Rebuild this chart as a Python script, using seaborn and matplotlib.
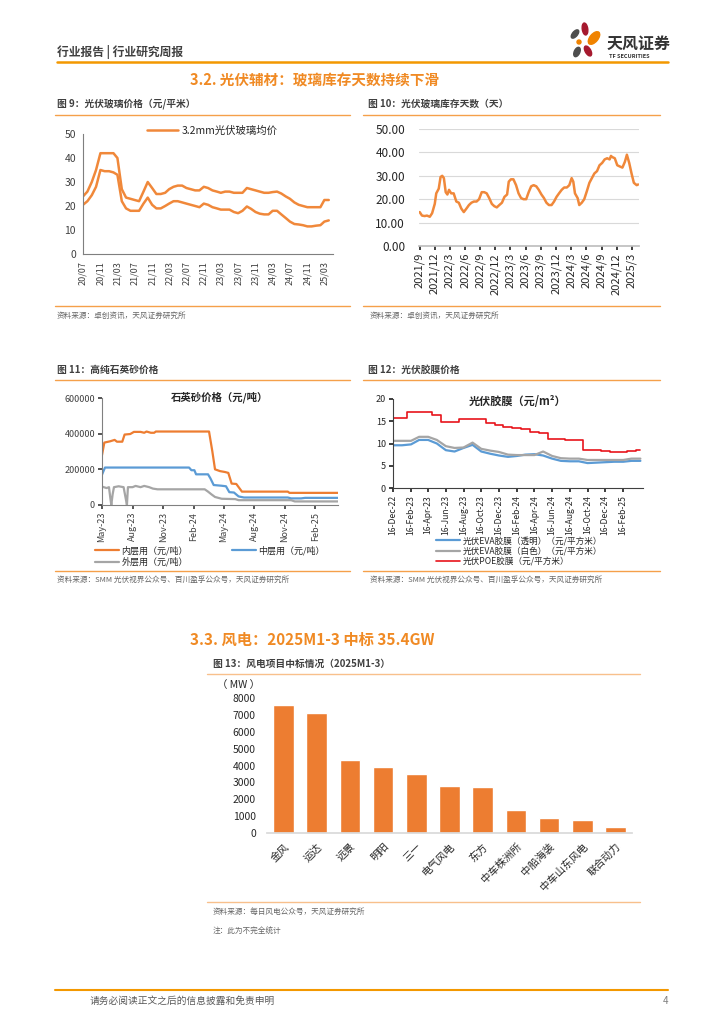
import numpy as np
import pandas as pd
import seaborn as sns
import matplotlib.pyplot as plt
from matplotlib.patches import Ellipse

sns.set_theme(style="white")
plt.rcParams['font.family'] = ['Noto Sans CJK SC', 'DejaVu Sans']
plt.rcParams['axes.unicode_minus'] = False

# ---------------- data ----------------
# Fig 9: PV glass price (yuan/m2), monthly from 2020/07
glass_ticks = ["20/07", "20/11", "21/03", "21/07", "21/11", "22/03", "22/07", "22/11",
               "23/03", "23/07", "23/11", "24/03", "24/07", "24/11", "25/03"]
glass_32mm = [24, 26, 30, 35, 42, 42,
              42, 42, 40, 27, 23.5, 23, 22.5, 22, 26, 30, 27.5, 25,
              25, 25.5, 27, 28, 28.5, 28.5, 27.5, 27, 26.5, 26.5, 28, 27.5,
              26.5, 26, 25.5, 26, 26, 25.5, 25.5, 25.5, 27.5, 27, 26.5, 26,
              25.5, 25.5, 25.8, 26, 25.2, 24, 23, 21.5, 20.5, 20, 19.5, 19.5,
              19.5, 19.5, 22.5, 22.5]
glass_20mm = [20.5, 22, 24.5, 28, 35, 34.5,
              34.5, 34, 33, 22, 19, 18, 18, 18, 21, 23.5, 20.5, 19,
              19, 20, 21, 22, 22, 21.5, 21, 20.5, 20, 19.5, 21, 20.5,
              19.5, 19, 18.5, 18.5, 18.5, 17.5, 17, 18, 19.8, 18.8, 17.5, 16.8,
              16.5, 16.5, 18, 18, 16.5, 15, 13.5, 12.5, 12.3, 12, 11.5, 11.5,
              11.8, 12, 13.5, 14]

# Fig 10: PV glass inventory days
inv_ticks = ["2021/9", "2021/12", "2022/3", "2022/6", "2022/9", "2022/12", "2023/3", "2023/6",
             "2023/9", "2023/12", "2024/3", "2024/6", "2024/9", "2024/12", "2025/3"]
inv_dates = ["2021-09-01", "2021-09-15", "2021-10-01", "2021-10-15", "2021-11-01", "2021-11-15",
             "2021-12-01", "2021-12-10", "2021-12-25", "2022-01-05", "2022-01-15", "2022-01-25",
             "2022-02-05", "2022-02-15", "2022-02-25", "2022-03-10", "2022-03-25", "2022-04-10",
             "2022-04-25", "2022-05-10", "2022-05-25", "2022-06-10", "2022-06-25", "2022-07-10",
             "2022-07-25", "2022-08-10", "2022-08-25", "2022-09-10", "2022-09-25", "2022-10-10",
             "2022-10-25", "2022-11-10", "2022-11-25", "2022-12-10", "2022-12-25", "2023-01-10",
             "2023-01-25", "2023-02-10", "2023-02-20", "2023-03-05", "2023-03-20", "2023-04-05",
             "2023-04-20", "2023-05-05", "2023-05-20", "2023-06-05", "2023-06-20", "2023-07-05",
             "2023-07-20", "2023-08-05", "2023-08-20", "2023-09-05", "2023-09-20", "2023-10-05",
             "2023-10-20", "2023-11-05", "2023-11-20", "2023-12-05", "2023-12-20", "2024-01-05",
             "2024-01-20", "2024-02-05", "2024-02-20", "2024-03-05", "2024-03-15", "2024-03-25",
             "2024-04-10", "2024-04-20", "2024-05-05", "2024-05-20", "2024-06-05", "2024-06-20",
             "2024-07-05", "2024-07-20", "2024-08-05", "2024-08-20", "2024-09-05", "2024-09-20",
             "2024-10-05", "2024-10-20", "2024-10-28", "2024-11-05", "2024-11-20", "2024-12-05",
             "2024-12-20", "2025-01-05", "2025-01-20", "2025-02-01", "2025-02-15", "2025-03-01",
             "2025-03-15", "2025-04-01", "2025-04-10"]
inv_days = [14.5, 13, 12.8, 13, 12.5, 14,
            18, 22.5, 24.5, 29.5, 30, 29,
            23, 22, 24, 22.5, 22.5, 19,
            18.5, 16, 14.5, 16, 17.5, 18.5,
            19, 19, 20, 23, 23, 22.5,
            20.5, 18, 17, 16.5, 17.5, 18.5,
            21, 22, 27.5, 28.5, 28.5, 26,
            22.5, 20.5, 20, 20, 23, 25.5,
            26, 25.5, 24, 22, 20.5, 18.5,
            17.5, 17.5, 19, 21, 22.5, 24,
            25, 25, 26, 29, 27.5, 22.5,
            20.5, 17.5, 18.5, 20, 23.5, 27,
            29, 31, 32, 34.5, 35.5, 37,
            37.5, 37, 38.5, 38, 37.5, 34.5,
            34, 33.5, 36, 39, 35.5, 31,
            27, 26, 26.3]

# Fig 11: quartz sand price (yuan/t)
sand_ticks = ["May-23", "Aug-23", "Nov-23", "Feb-24", "May-24", "Aug-24", "Nov-24", "Feb-25"]
inner_dates = ["2023-05-01", "2023-05-08", "2023-05-25", "2023-06-08", "2023-06-15", "2023-07-01",
               "2023-07-08", "2023-07-25", "2023-08-05", "2023-08-25", "2023-09-05", "2023-09-12",
               "2023-09-25", "2023-10-05", "2023-10-10", "2024-03-18", "2024-03-28", "2024-04-05",
               "2024-04-20", "2024-05-05", "2024-05-15", "2024-05-25", "2024-06-08", "2024-06-25",
               "2024-11-10", "2024-11-15", "2025-04-10"]
inner_price = [280000, 350000, 357000, 365000, 355000, 355000,
               395000, 398000, 410000, 410000, 405000, 412000,
               405000, 405000, 412000, 412000, 300000, 200000,
               190000, 185000, 180000, 120000, 118000, 75000,
               75000, 68000, 68000]
middle_dates = ["2023-05-01", "2023-05-10", "2024-01-18", "2024-01-25", "2024-02-03", "2024-02-08",
                "2024-03-15", "2024-03-22", "2024-04-01", "2024-04-25", "2024-05-08", "2024-05-18",
                "2024-06-01", "2024-06-15", "2024-07-01", "2024-11-10", "2024-11-20", "2024-12-20",
                "2025-01-01", "2025-04-10"]
middle_price = [170000, 210000, 210000, 195000, 195000, 172000,
                172000, 150000, 112000, 108000, 105000, 72000,
                70000, 48000, 42000, 42000, 37000, 37000,
                40000, 40000]
outer_dates = ["2023-05-01", "2023-05-15", "2023-05-22", "2023-05-26", "2023-05-29", "2023-06-02",
               "2023-06-06", "2023-06-20", "2023-07-05", "2023-07-12", "2023-07-15", "2023-07-18",
               "2023-08-01", "2023-08-10", "2023-08-25", "2023-09-05", "2023-09-20", "2023-10-01",
               "2023-10-15", "2024-03-05", "2024-03-15", "2024-03-25", "2024-04-05", "2024-04-25",
               "2024-06-05", "2024-06-15", "2024-11-20", "2024-12-01", "2025-04-10"]
outer_price = [103000, 95000, 100000, 40000, 0, 60000,
               100000, 105000, 100000, 30000, 0, 100000,
               100000, 107000, 100000, 107000, 100000, 92000,
               88000, 88000, 75000, 60000, 45000, 35000,
               33000, 27000, 27000, 20000, 20000]

# Fig 12: PV film price (yuan/m2), monthly on the 16th
film_ticks = ["16-Dec-22", "16-Feb-23", "16-Apr-23", "16-Jun-23", "16-Aug-23", "16-Oct-23",
              "16-Dec-23", "16-Feb-24", "16-Apr-24", "16-Jun-24", "16-Aug-24", "16-Oct-24",
              "16-Dec-24", "16-Feb-25"]
eva_clear = [9.6, 9.6, 9.8, 10.8, 10.8, 10.0, 8.5, 8.2, 9.0, 9.7, 8.2, 7.7, 7.3,
             7.0, 7.2, 7.5, 7.6, 7.3, 6.6, 6.1, 6.0, 6.0, 5.6, 5.7, 5.8,
             5.9, 5.9, 6.1, 6.1]
eva_white = [10.6, 10.6, 10.6, 11.5, 11.5, 10.8, 9.4, 9.0, 9.1, 10.2, 8.8, 8.4, 8.1,
             7.5, 7.4, 7.4, 7.4, 8.2, 7.2, 6.7, 6.6, 6.6, 6.3, 6.3, 6.3,
             6.3, 6.3, 6.6, 6.6]
poe = [15.8, 15.8, 17.0, 17.0, 17.0, 16.5, 14.8, 14.8, 15.5, 15.5, 15.5, 14.6, 14.2,
       13.6, 13.5, 13.3, 12.6, 12.3, 11.1, 10.9, 10.8, 10.8, 8.5, 8.5, 8.3,
       8.2, 8.1, 8.4, 8.5]

# Fig 13: wind bid winners 2025M1-3 (MW)
wind_names = ["金风", "运达", "远景", "明阳", "三一", "电气风电", "东方",
              "中车株洲所", "中船海装", "中车山东风电", "联合动力"]
wind_mw = [7600, 7100, 4350, 3900, 3500, 2800, 2700, 1350, 880, 800, 380]

# ---------------- layout helpers ----------------
W, H = 724, 1024
ORANGE = "#ED7D31"
LINE_OR = "#F0883A"
RULE = "#F5A04A"
TXT = "#404040"
SRC = "#666666"

fig = plt.figure(figsize=(7.24, 10.24), dpi=100)


def rect(x0, y0, x1, y1):
    return [x0 / W, 1 - y1 / H, (x1 - x0) / W, (y1 - y0) / H]


def ftext(x, y, s, **kw):
    kw.setdefault("va", "center")
    fig.text(x / W, 1 - y / H, s, **kw)


def hline(y, x0, x1, color=RULE, lw=1.0):
    fig.add_artist(plt.Line2D([x0 / W, x1 / W], [1 - y / H, 1 - y / H], color=color, lw=lw))


def fig_anchor(x, y):
    return (x / W, 1 - y / H)


# ---------------- page header ----------------
ftext(57, 52, "行业报告 | 行业研究周报", fontsize=8.5, color=TXT, fontweight="bold")
hline(62, 57, 668, color="#F39800", lw=1.8)

ax_logo = fig.add_axes(rect(566, 20, 606, 62))
ax_logo.set_xlim(0, 40)
ax_logo.set_ylim(42, 0)
ax_logo.set_aspect("equal")
ax_logo.axis("off")
for cx, cy, w, h, ang, col in [(19, 9, 5.5, 12, -8, "#A6192E"), (9, 14, 5, 10, 40, "#4D4D4D"),
                               (28, 18, 8, 15, 40, "#F08300"), (13, 22, 4, 4, 0, "#F08300"),
                               (22, 31, 5.5, 11, -30, "#A6192E"), (11, 32, 5.5, 10, 25, "#4D4D4D")]:
    ax_logo.add_patch(Ellipse((cx, cy), w, h, angle=ang, color=col))
ftext(607, 44, "天风证券", fontsize=11.5, color="#333333", fontweight="bold")
ftext(609, 56, "TF SECURITIES", fontsize=4, color="#333333", fontweight="bold")

ftext(190, 80, "3.2. 光伏辅材：玻璃库存天数持续下滑", fontsize=10.5, color="#F08A24",
      fontweight="bold")

# ---------------- Fig 9 ----------------
ftext(57, 104, "图 9：光伏玻璃价格（元/平米）", fontsize=7, color=TXT, fontweight="bold")
hline(115, 55, 350)
hline(306, 55, 350)
ftext(57, 316, "资料来源：卓创资讯，天风证券研究所", fontsize=5.5, color=SRC)

glass_dates = pd.date_range("2020-07-01", periods=len(glass_32mm), freq="MS")
ax9 = fig.add_axes(rect(83, 134, 333, 254))
sns.lineplot(x=glass_dates, y=glass_32mm, ax=ax9, color=LINE_OR, lw=1.8, label="3.2mm光伏玻璃均价")
sns.lineplot(x=glass_dates, y=glass_20mm, ax=ax9, color=LINE_OR, lw=1.8)
ax9.set_ylim(0, 50)
ax9.set_yticks(range(0, 51, 10))
ax9.set_xlim(pd.Timestamp("2020-07-01"), pd.Timestamp("2025-05-01"))
ax9.set_xticks(pd.to_datetime(["20" + t.replace("/", "-") + "-01" for t in glass_ticks]))
ax9.set_xticklabels(glass_ticks, rotation=90)
ax9.tick_params(axis="x", labelsize=6.5, length=3, color="#7F7F7F", pad=2)
ax9.tick_params(axis="y", labelsize=7.5, length=3, color="#7F7F7F", pad=2)
ax9.tick_params(colors=TXT, which="both")
for s in ["top", "right"]:
    ax9.spines[s].set_visible(False)
for s in ["left", "bottom"]:
    ax9.spines[s].set_color("#7F7F7F")
    ax9.spines[s].set_linewidth(0.8)
ax9.legend(loc="center", bbox_to_anchor=fig_anchor(212, 131), bbox_transform=fig.transFigure,
           frameon=False, fontsize=7.5, handlelength=3.0, handletextpad=0.3, borderpad=0)

# ---------------- Fig 10 ----------------
ftext(368, 104, "图 10：光伏玻璃库存天数（天）", fontsize=7, color=TXT, fontweight="bold")
hline(115, 363, 660)
hline(306, 363, 660)
ftext(370, 316, "资料来源：卓创资讯，天风证券研究所", fontsize=5.5, color=SRC)

ax10 = fig.add_axes(rect(419, 129, 639, 246))
sns.lineplot(x=pd.to_datetime(inv_dates), y=inv_days, ax=ax10, color=LINE_OR, lw=1.8)
ax10.set_ylim(0, 50)
ax10.set_yticks(range(0, 51, 10))
ax10.set_yticklabels([f"{v:.2f}" for v in range(0, 51, 10)])
ax10.set_xlim(pd.Timestamp("2021-08-28"), pd.Timestamp("2025-04-15"))
ax10.set_xticks(pd.to_datetime([t.replace("/", "-") + "-01" for t in inv_ticks]))
ax10.set_xticklabels(inv_ticks, rotation=90)
ax10.grid(axis="y", color="#D9D9D9", lw=0.8)
ax10.set_axisbelow(True)
ax10.tick_params(axis="x", labelsize=8, length=3, color="#BFBFBF", bottom=True, pad=2)
ax10.tick_params(axis="y", labelsize=8.5, length=0, pad=10)
ax10.tick_params(colors="#262626", which="both")
for s in ["top", "right", "left"]:
    ax10.spines[s].set_visible(False)
ax10.spines["bottom"].set_color("#BFBFBF")

# ---------------- Fig 11 ----------------
ftext(57, 370, "图 11：高纯石英砂价格", fontsize=7, color=TXT, fontweight="bold")
hline(380, 55, 350)
hline(571, 55, 350)
ftext(57, 580, "资料来源：SMM 光伏视界公众号、百川盈孚公众号，天风证券研究所", fontsize=5.5, color=SRC)

ax11 = fig.add_axes(rect(102, 398, 338, 505))
sns.lineplot(x=pd.to_datetime(inner_dates), y=inner_price, ax=ax11, color=ORANGE, lw=1.6,
             label="内层用（元/吨）")
sns.lineplot(x=pd.to_datetime(middle_dates), y=middle_price, ax=ax11, color="#5B9BD5", lw=1.6,
             label="中层用（元/吨）")
sns.lineplot(x=pd.to_datetime(outer_dates), y=outer_price, ax=ax11, color="#A5A5A5", lw=1.6,
             label="外层用（元/吨）")
ax11.set_ylim(0, 600000)
ax11.set_yticks([0, 200000, 400000, 600000])
ax11.set_yticklabels(["0", "200000", "400000", "600000"])
ax11.set_xlim(pd.Timestamp("2023-05-01"), pd.Timestamp("2025-04-10"))
ax11.set_xticks(pd.to_datetime(sand_ticks, format="%b-%y"))
ax11.set_xticklabels(sand_ticks, rotation=90)
ax11.tick_params(axis="x", labelsize=6.5, length=3, color="#808080", bottom=True, pad=2)
ax11.tick_params(axis="y", labelsize=6.5, length=3, color="#808080", left=True, pad=2)
ax11.tick_params(colors="#404040", which="both")
for s in ["top", "right"]:
    ax11.spines[s].set_visible(False)
for s in ["left", "bottom"]:
    ax11.spines[s].set_color("#808080")
    ax11.spines[s].set_linewidth(0.8)
ax11.set_title("石英砂价格（元/吨）", fontsize=7.5, fontweight="bold", color="#262626", y=0.9)
h11, lab11 = ax11.get_legend_handles_labels()
leg_a = ax11.legend([h11[0], h11[2]], [lab11[0], lab11[2]], loc="upper left",
                    bbox_to_anchor=fig_anchor(90, 541), bbox_transform=fig.transFigure,
                    frameon=False, fontsize=6.5, handlelength=2.7, handletextpad=0.3,
                    labelspacing=0.25, borderpad=0)
ax11.add_artist(leg_a)
ax11.legend([h11[1]], [lab11[1]], loc="upper left",
            bbox_to_anchor=fig_anchor(227, 541), bbox_transform=fig.transFigure,
            frameon=False, fontsize=6.5, handlelength=2.7, handletextpad=0.3, borderpad=0)

# ---------------- Fig 12 ----------------
ftext(368, 370, "图 12：光伏胶膜价格", fontsize=7, color=TXT, fontweight="bold")
hline(380, 363, 660)
hline(571, 363, 660)
ftext(370, 580, "资料来源：SMM 光伏视界公众号、百川盈孚公众号，天风证券研究所", fontsize=5.5, color=SRC)

film_dates = pd.to_datetime([f"{d.year}-{d.month:02d}-16" for d in
                             pd.date_range("2022-12-01", periods=len(poe), freq="MS")])
ax12 = fig.add_axes(rect(393, 399, 643, 488))
sns.lineplot(x=film_dates, y=eva_clear, ax=ax12, color="#5B9BD5", lw=1.6,
             label="光伏EVA胶膜（透明）（元/平方米）")
sns.lineplot(x=film_dates, y=eva_white, ax=ax12, color="#A5A5A5", lw=1.6,
             label="光伏EVA胶膜（白色）（元/平方米）")
sns.lineplot(x=film_dates, y=poe, ax=ax12, color="#E8141B", lw=1.2, drawstyle="steps-mid",
             label="光伏POE胶膜（元/平方米）")
ax12.set_ylim(0, 20)
ax12.set_yticks([0, 5, 10, 15, 20])
ax12.set_xlim(pd.Timestamp("2022-12-16"), pd.Timestamp("2025-04-25"))
ax12.set_xticks(pd.to_datetime(film_ticks, format="%d-%b-%y"))
ax12.set_xticklabels(film_ticks, rotation=90)
ax12.tick_params(axis="x", labelsize=6.2, length=3, color="#404040", bottom=True, pad=2)
ax12.tick_params(axis="y", labelsize=6.5, length=3, color="#404040", left=True, pad=2)
ax12.tick_params(colors="#262626", which="both")
for s in ["top", "right"]:
    ax12.spines[s].set_visible(False)
for s in ["left", "bottom"]:
    ax12.spines[s].set_color("#404040")
    ax12.spines[s].set_linewidth(0.8)
ax12.set_title("光伏胶膜（元/m²）", fontsize=8, fontweight="bold", color="#262626", y=0.84)
ax12.legend(loc="upper left", bbox_to_anchor=fig_anchor(432, 532), bbox_transform=fig.transFigure,
            frameon=False, fontsize=6.2, handlelength=2.8, handletextpad=0.3,
            labelspacing=0.15, borderpad=0)

for ax in (ax9, ax10, ax11, ax12):
    ax.set_xlabel("")
    ax.set_ylabel("")

# ---------------- section 3.3 / Fig 13 ----------------
ftext(190, 640, "3.3. 风电：2025M1-3 中标 35.4GW", fontsize=11, color="#F08A24", fontweight="bold")
ftext(213, 664, "图 13：风电项目中标情况（2025M1-3）", fontsize=7, color=TXT, fontweight="bold")
hline(674, 207, 640, color="#F8C08C")
ftext(217, 685, "（ MW ）", fontsize=7.5, color="#262626")

ax13 = fig.add_axes(rect(267, 698, 632, 833))
sns.barplot(x=wind_names, y=wind_mw, ax=ax13, color=ORANGE, saturation=1, width=0.62)
ax13.set_ylim(0, 8000)
ax13.set_yticks(range(0, 8001, 1000))
ax13.set_xlim(-0.5, len(wind_names) - 0.5)
ax13.set_xticks(range(len(wind_names)))
ax13.set_xticklabels(wind_names, rotation=45, ha="right", rotation_mode="anchor")
ax13.tick_params(axis="x", labelsize=7.5, length=0, pad=6)
ax13.tick_params(axis="y", labelsize=7.5, length=0, pad=8)
ax13.tick_params(colors="#262626", which="both")
ax13.set_xlabel("")
ax13.set_ylabel("")
for s in ["top", "right", "left"]:
    ax13.spines[s].set_visible(False)
ax13.spines["bottom"].set_color("#D9D9D9")

hline(902, 207, 640, color="#F8C08C")
ftext(213, 912, "资料来源：每日风电公众号，天风证券研究所", fontsize=5.5, color=SRC)
ftext(213, 932, "注：此为不完全统计", fontsize=5.5, color=SRC)

# ---------------- footer ----------------
hline(990, 55, 668, color="#F39800", lw=1.5)
ftext(90, 1001, "请务必阅读正文之后的信息披露和免责申明", fontsize=7, color="#595959")
ftext(668, 1001, "4", fontsize=7, color="#7F7F7F", ha="right")

fig.savefig("out.png", dpi=100)
